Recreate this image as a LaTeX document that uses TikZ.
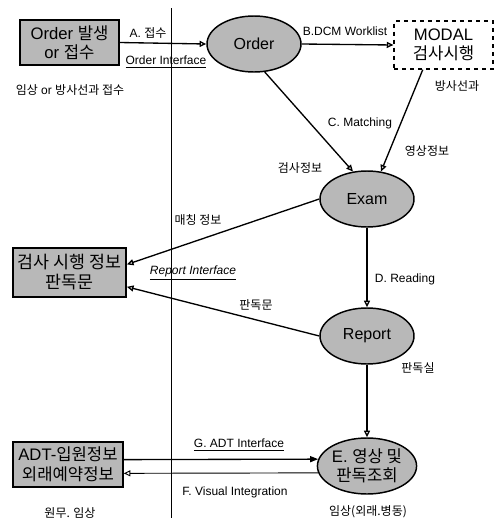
\documentclass[tikz,border=0pt]{standalone}
\usepackage{fontspec}
\setmainfont{Liberation Sans}
\newfontfamily\kr{Noto Sans CJK KR}
\usetikzlibrary{arrows.meta,shapes.geometric}

\begin{document}
\begin{tikzpicture}[x=0.75pt,y=0.75pt,
  sysbox/.style={draw,line width=1.1pt,fill=black!28,inner sep=0pt,align=center,font=\fontsize{12.5}{14}\selectfont},
  proc/.style={ellipse,draw,line width=1.1pt,fill=black!28,inner sep=0pt,minimum width=70.5pt,minimum height=42pt,align=center,font=\fontsize{12}{13.5}\selectfont},
  lbl/.style={font=\fontsize{9}{11}\selectfont},
  flow/.style={line width=1pt,-{Triangle[open,length=5pt,width=4.5pt]}}]
\useasboundingbox (0,0) rectangle (498,-518);
\draw[line width=0.6pt] (171,-8) -- (171,-518);

\node[sysbox,minimum width=74pt,minimum height=34pt] (ordbox) at (69.5,-42.5) {Order {\kr 발생}\\or {\kr 접수}};
\node[proc] (order) at (254,-44) {Order};
\node[sysbox,fill=white,dashed,minimum width=74pt,minimum height=36pt] (modal) at (443.5,-45) {MODAL\\{\kr 검사시행}};
\node[proc] (exam) at (367,-199) {Exam};
\node[sysbox,minimum width=85pt,minimum height=37pt,font=\fontsize{13}{15}\selectfont] (rbox) at (69.5,-272.5) {{\kr 검사 시행 정보}\\{\kr 판독문}};
\node[proc] (report) at (367,-336) {Report};
\node[sysbox,minimum width=82.5pt,minimum height=34pt,font=\fontsize{12.5}{15}\selectfont] (adt) at (68,-464.5) {ADT-{\kr 입원정보}\\{\kr 외래예약정보}};
\node[proc,font=\fontsize{12.5}{14}\selectfont] (evis) at (367,-466) {E. {\kr 영상 및}\\{\kr 판독조회}};

\node[lbl] (la) at (148,-33) {A. {\kr 접수}};
\node[lbl] (loi) at (166,-62) {\underline{Order Interface}};
\node[lbl] (lorg) at (70,-90) {{\kr 임상} or {\kr 방사선과 접수}};
\node[lbl] (lb) at (345,-31) {B.DCM Worklist};
\node[lbl] (lrad) at (457,-86) {\kr 방사선과};
\node[lbl] (lc) at (360,-123) {C. Matching};
\node[lbl] (limg) at (427,-151) {\kr 영상정보};
\node[lbl] (lexam) at (300,-168) {\kr 검사정보};
\node[lbl] (lmatch) at (198,-220) {\kr 매칭 정보};
\node[lbl] (lri) at (193,-273) {\textit{\underline{Report Interface}}};
\node[lbl] (ld) at (405,-279) {D. Reading};
\node[lbl] (lrep) at (256,-305) {\kr 판독문};
\node[lbl] (lroom) at (418,-368) {\kr 판독실};
\node[lbl] (lg) at (239,-445) {\underline{G. ADT Interface}};
\node[lbl] (lf) at (235,-492) {F. Visual Integration};
\node[lbl] (ladm) at (70,-513) {\kr 원무. 임상};
\node[lbl] (lward) at (368,-512) {\kr 임상(외래.병동)};

\draw[flow] (ordbox.east) -- (order.west);
\draw[flow] (order.east) -- (modal.west);
\draw[flow] (order.-69) -- (exam.117);
\draw[flow] (modal.-130) -- (exam.63);
\draw[flow] (exam.west) -- (rbox.8);
\draw[flow] (report.west) -- (rbox.-14);
\draw[flow] (exam.south) -- (report.north);
\draw[flow] (report.south) -- (evis.north);
\draw[line width=1pt,-{Triangle[length=6pt,width=4.5pt]}] (adt.5) -- (evis.172);
\draw[flow,line width=0.7pt] (evis.188) -- (adt.-9);
\end{tikzpicture}
\end{document}
